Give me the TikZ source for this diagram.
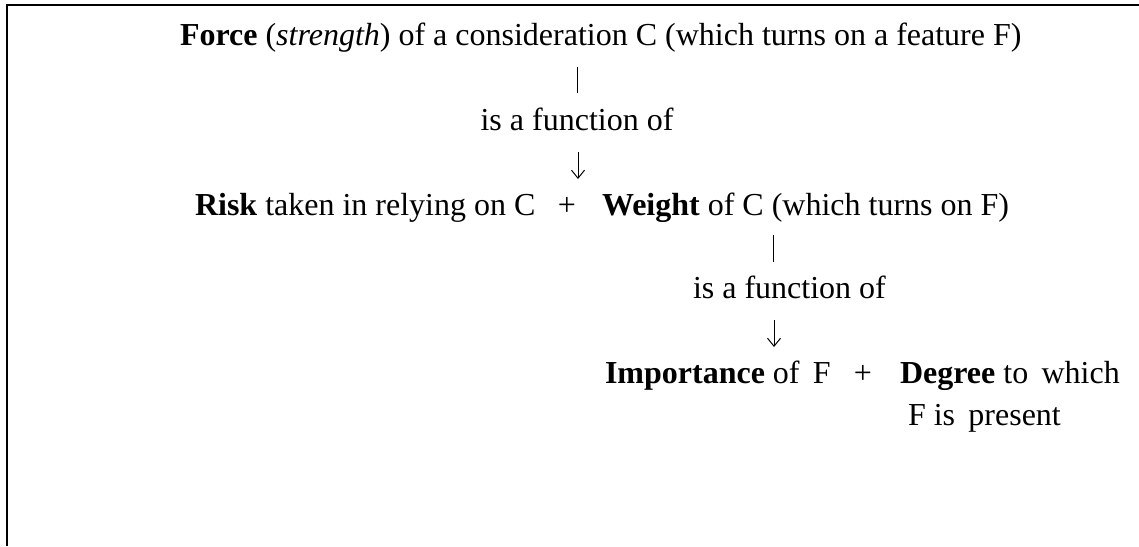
\documentclass[tikz,border=0pt]{standalone}
\usepackage{fontspec}
\setmainfont{Liberation Serif}
\usetikzlibrary{arrows.meta}
\begin{document}
\begin{tikzpicture}[x=1pt,y=-1pt,
  txt/.style={inner sep=0pt,outer sep=0pt,font=\fontsize{32pt}{38pt}\selectfont},
  stem/.style={line width=1pt,black},
  fnarrow/.style={line width=1pt,black,-{Straight Barb[length=8pt,width=13pt,line width=1pt]}},
  frame/.style={line width=2.2pt,black}]
\useasboundingbox (0,0) rectangle (1139,546);
\draw[frame] (7,546) -- (7,5) -- (1139,5);
% line 1
\node[txt,anchor=base west] (force) at (180,45) {\textbf{Force} (\textit{strength}) of a consideration C (which turns on a feature F)};
% first function label
\node[txt,anchor=base] (fa) at (577,130) {is a function of};
\coordinate (s1a) at (577,67);
\coordinate (s1b) at (577,93);
\draw[stem] (s1a) -- (s1b);
\coordinate (a1a) at (578,152);
\coordinate (a1b) at (578,179);
\draw[fnarrow] (a1a) -- (a1b);
% line 3
\node[txt,anchor=base west] (risk) at (195,215) {\textbf{Risk} taken in relying on C};
\node[txt,anchor=base] (plus1) at (567,215) {+};
\node[txt,anchor=base west] (weight) at (602,215) {\textbf{Weight} of C (which turns on F)};
% second function label
\coordinate (s2a) at (773,235);
\coordinate (s2b) at (773,262);
\draw[stem] (s2a) -- (s2b);
\node[txt,anchor=base west] (fb) at (693,298) {is a function of};
\coordinate (a2a) at (774,320);
\coordinate (a2b) at (774,347);
\draw[fnarrow] (a2a) -- (a2b);
% line 5
\node[txt,anchor=base west] (imp) at (605,383) {\textbf{Importance} of\, F};
\node[txt,anchor=base] (plus2) at (863,383) {+};
\node[txt,anchor=base west] (deg) at (900,383) {\textbf{Degree} to\, which};
\node[txt,anchor=base west] (pres) at (908,425) {F is\, present};
\end{tikzpicture}
\end{document}
